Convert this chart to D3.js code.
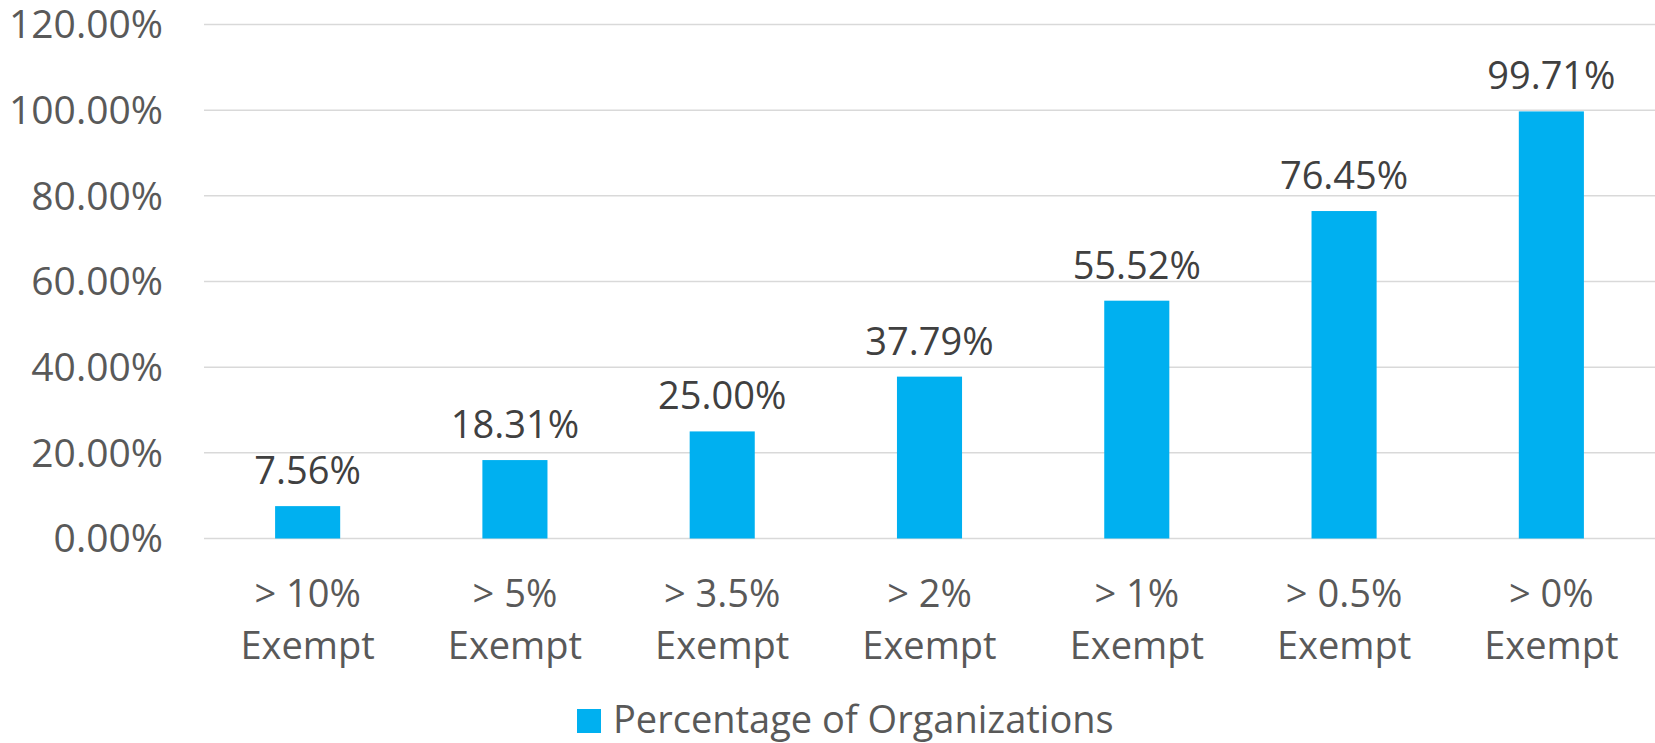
<!DOCTYPE html>
<html>
<head>
<meta charset="utf-8">
<script src="https://cdn.jsdelivr.net/npm/d3@7/dist/d3.min.js"></script>
<style>
html, body { margin: 0; padding: 0; background: #fff; }
svg { display: block; }
text { font-family: "Open Sans", "Noto Sans", sans-serif; }
</style>
</head>
<body>
<svg id="chart" width="1655" height="743"></svg>
<script>
const categories = ["> 10%|Exempt", "> 5%|Exempt", "> 3.5%|Exempt", "> 2%|Exempt", "> 1%|Exempt", "> 0.5%|Exempt", "> 0%|Exempt"];
const values = [7.56, 18.31, 25.00, 37.79, 55.52, 76.45, 99.71];
const valueLabels = ["7.56%", "18.31%", "25.00%", "37.79%", "55.52%", "76.45%", "99.71%"];
const yTicks = [0, 20, 40, 60, 80, 100, 120];
const seriesName = "Percentage of Organizations";

const svg = d3.select("#chart");
const plotLeft = 204, plotRight = 1655, plotTop = 24.5, plotBottom = 538.5;

const x = d3.scaleBand().domain(categories).range([plotLeft, plotRight]).padding(0);
const y = d3.scaleLinear().domain([0, 120]).range([plotBottom, plotTop]);
const barW = x.bandwidth() * 0.314;

// gridlines
svg.append("g").selectAll("line").data(yTicks).join("line")
  .attr("x1", plotLeft).attr("x2", plotRight)
  .attr("y1", d => y(d)).attr("y2", d => y(d))
  .attr("stroke", "#d9d9d9").attr("stroke-width", 1.5);

// y axis labels
const yAxis = d3.axisLeft(y).tickValues(yTicks).tickFormat(d => d3.format(".2f")(d) + "%").tickSize(0).tickPadding(0);
const yg = svg.append("g").attr("transform", `translate(163,0)`).call(yAxis);
yg.select(".domain").remove();
yg.selectAll("text").attr("font-size", 39).attr("fill", "#595959").attr("dy", "0.34em")
  .style("font-family", '"Open Sans", sans-serif');

// bars
svg.append("g").selectAll("rect").data(values).join("rect")
  .attr("x", (d, i) => x(categories[i]) + x.bandwidth() / 2 - barW / 2)
  .attr("width", barW)
  .attr("y", d => y(d))
  .attr("height", d => y(0) - y(d))
  .attr("fill", "#00b0f0");

// value labels
svg.append("g").selectAll("text").data(values).join("text")
  .attr("x", (d, i) => x(categories[i]) + x.bandwidth() / 2)
  .attr("y", d => y(d) - 22)
  .attr("text-anchor", "middle")
  .attr("font-size", 38)
  .attr("fill", "#404040")
  .text((d, i) => valueLabels[i]);

// x axis labels
const xAxis = d3.axisBottom(x).tickSize(0).tickFormat(() => "");
const xg = svg.append("g").attr("transform", `translate(0,${plotBottom})`).call(xAxis);
xg.select(".domain").remove();
xg.selectAll(".tick").each(function(d) {
  const t = d3.select(this).append("text")
    .attr("text-anchor", "middle").attr("font-size", 38).attr("fill", "#595959");
  d.split("|").forEach((s, k) => {
    t.append("tspan").attr("x", 0).attr("y", 68 + k * 52).text(s);
  });
});

// legend
const lg = svg.append("g");
lg.append("rect").attr("x", 577).attr("y", 709).attr("width", 24).attr("height", 24).attr("fill", "#00b0f0");
lg.append("text").attr("x", 613).attr("y", 733).attr("font-size", 38).attr("fill", "#595959").text(seriesName);
</script>
</body>
</html>
